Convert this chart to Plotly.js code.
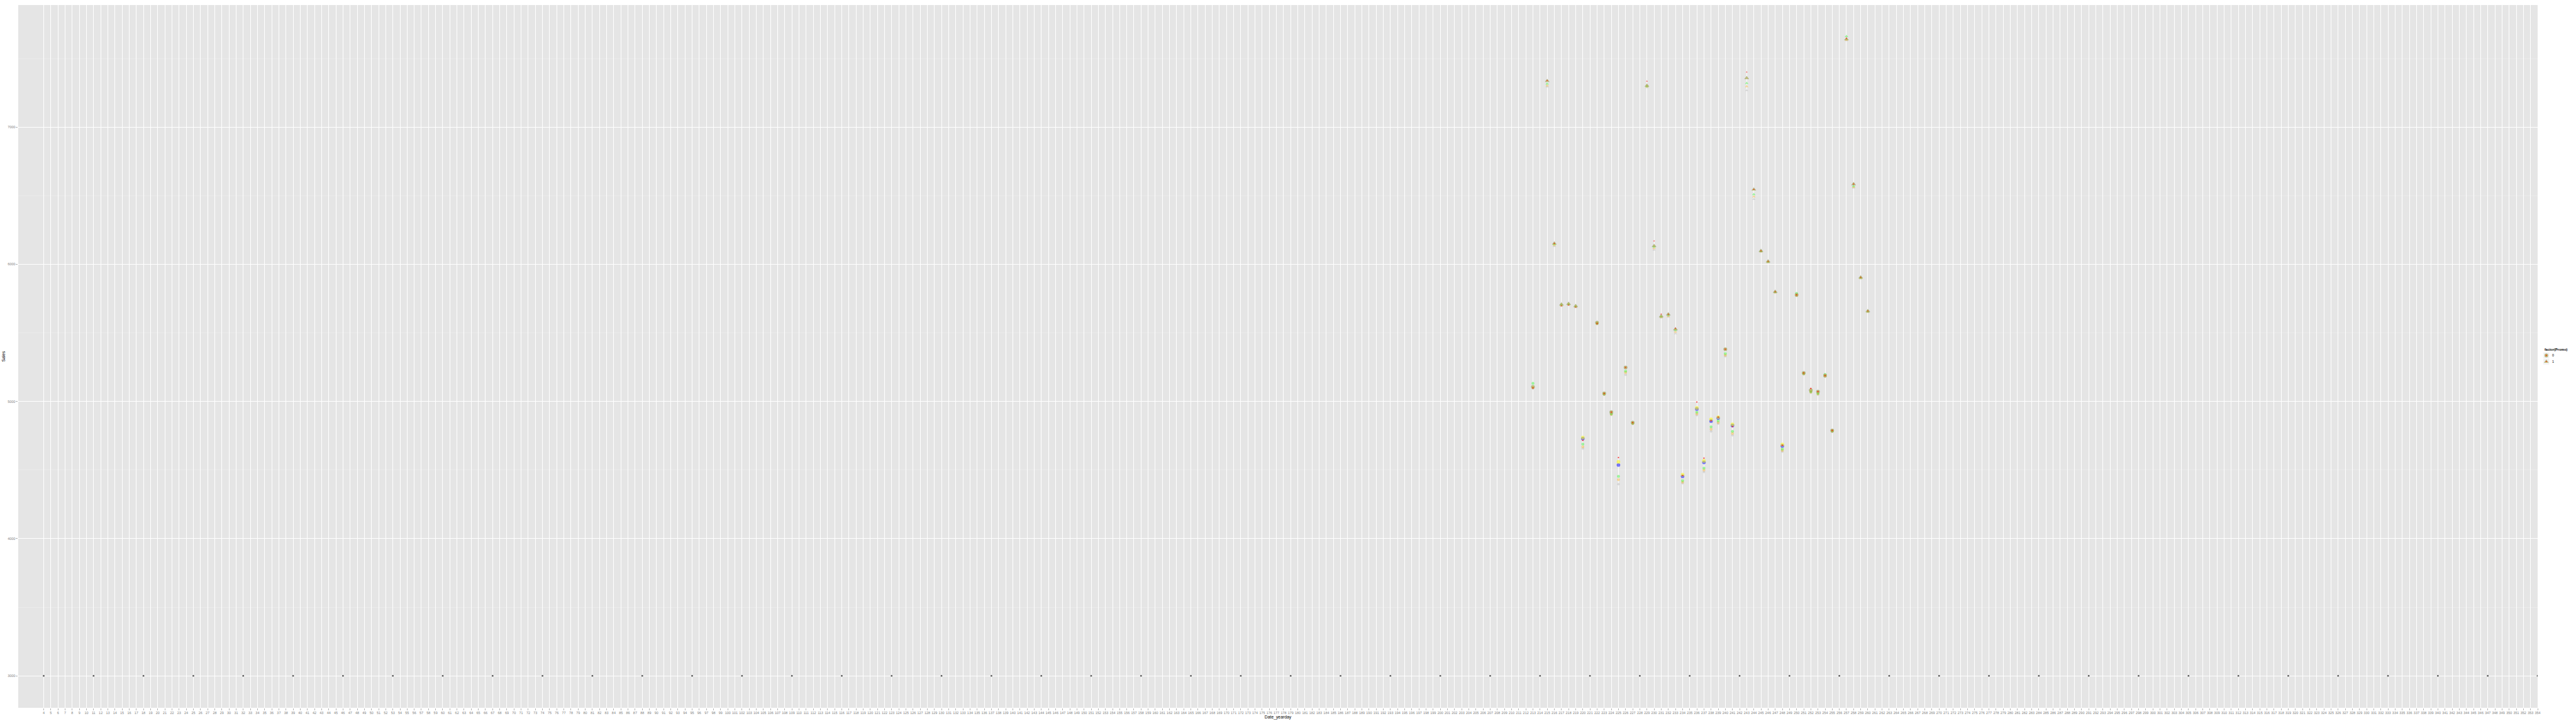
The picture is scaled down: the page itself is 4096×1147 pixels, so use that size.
<!DOCTYPE html>
<html>
<head>
<meta charset="utf-8">
<script src="https://cdn.plot.ly/plotly-3.0.1.min.js"></script>
<style>
html,body{margin:0;padding:0;background:#ffffff;}
#chart{width:4096px;height:1147px;}
</style>
</head>
<body>
<div id="chart"></div>
<script>
// ---------------- data ----------------
const days = [213,215,216,217,218,219,220,222,223,224,225,226,227,229,230,231,232,233,234,236,237,238,239,240,241,243,244,245,246,247,248,250,251,252,253,254,255,257,258,259,260];
const promo = [0,1,1,1,1,1,0,0,0,0,0,0,0,1,1,1,1,1,0,0,0,0,0,0,0,1,1,1,1,1,0,0,0,0,0,0,0,1,1,1,1];
const salesGray   = [5095,7294,6131,5696,5701,5685,4657,5564,5049,4902,4397,5194,4836,7289,6104,5610,5616,5495,4404,4900,4487,4782,4838,5330,4753,7267,6475,6089,6012,5791,4634,5770,5198,5064,5050,5182,4779,7632,6557,5895,5650];
const salesOrange = [5100,7302,6140,5700,5705,5689,4670,5567,5052,4906,4430,5211,4839,7294,6117,5614,5622,5507,4412,4910,4500,4798,4846,5338,4767,7297,6493,6092,6015,5794,4643,5773,5201,5068,5055,5185,4782,7636,6562,5898,5653];
const salesGreen  = [5132,7316,6146,5704,5709,5693,4689,5570,5055,4910,4454,5221,4842,7298,6128,5618,5630,5520,4423,4922,4514,4815,4859,5349,4782,7320,6510,6095,6018,5797,4653,5788,5204,5072,5059,5197,4785,7662,6570,5901,5656];
const salesBlue   = [5106,7337,6152,5708,5713,5697,4729,5574,5059,4922,4537,5248,4846,7303,6134,5622,5636,5527,4454,4945,4556,4857,4879,5381,4825,7358,6545,6099,6022,5801,4676,5777,5208,5082,5072,5189,4789,7641,6585,5905,5660];
const salesYellow = [5106,7337,6152,5708,5713,5697,4737,5574,5059,4922,4560,5248,4846,7303,6134,5622,5636,5527,4467,4953,4567,4870,4886,5381,4833,7358,6545,6099,6022,5801,4686,5777,5208,5082,5072,5189,4789,7641,6585,5905,5660];
const salesRed    = [5099,7339,6152,5697,5702,5687,4716,5569,5059,4922,4591,5248,4846,7335,6170,5637,5636,5534,4460,4996,4587,4859,4886,5381,4817,7401,6545,6099,6022,5801,4680,5777,5208,5095,5072,5189,4789,7648,6585,5905,5660];

const closedDays  = [4,11,18,25,32,39,46,53,60,67,74,81,88,95,102,109,116,123,130,137,144,151,158,165,172,179,186,193,200,207,214,221,228,235,242,249,256,263,270,277,284,291,298,305,312,319,326,333,340,347,354];
const closedSales = [3000,3000,3000,3000,3000,3000,3000,3000,3000,3000,3000,3000,3000,3000,3000,3000,3000,3000,3000,3000,3000,3000,3000,3000,3000,3000,3000,3000,3000,3000,3000,3000,3000,3000,3000,3000,3000,3000,3000,3000,3000,3000,3000,3000,3000,3000,3000,3000,3000,3000,3000];

const yTickVals = [3000,4000,5000,6000,7000];
const yTickText = ['3000','4000','5000','6000','7000'];
const yMinorVals = [3500,4500,5500,6500,7500];
const xTickVals = [];
for (let d = 4; d <= 354; d++) xTickVals.push(d);
const xTickText = xTickVals.map(String);

const legendTitle = 'factor(Promo)';
const legendLevels = [0, 1];
const legendLabels = ['0', '1'];

// ---------------- geometry (px in the 4096x1147 window) ----------------
const W = 4096, H = 1147;
const panelL = 29.18, panelR = 4035.0, panelT = 8.08, panelB = 1125.8;
const paperW = W - panelL;
const FONT = 'Liberation Sans, Arial, Helvetica, sans-serif';

const layers = [
  {name:'gray',   y: salesGray,   color:'rgba(175,175,175,0.55)', c:4.0, t:4.3},
  {name:'orange', y: salesOrange, color:'rgba(255,165,0,0.5)',   c:4.6, t:4.9},
  {name:'green',  y: salesGreen,  color:'rgba(0,255,0,0.5)',     c:4.6, t:4.9},
  {name:'blue',   y: salesBlue,   color:'rgba(0,0,255,0.72)',    c:5.7, t:6.4},
  {name:'yellow', y: salesYellow, color:'rgba(255,255,0,0.75)',  c:5.7, t:6.4},
  {name:'red',    y: salesRed,    color:'rgb(255,0,0)',          c:2.3, t:2.4}
];
const sym = p => p ? 'triangle-up' : 'circle';

const traces = [];
traces.push({
  type:'scatter', mode:'markers', x: closedDays, y: closedSales,
  marker:{color:'#5b5b5b', size:2.7, line:{width:0}},
  showlegend:false, hoverinfo:'skip', xaxis:'x', yaxis:'y'
});
layers.forEach(L => {
  traces.push({
    type:'scatter', mode:'markers', name:L.name, x: days, y: L.y,
    marker:{color:L.color, size: promo.map(p => p ? L.t : L.c), symbol: promo.map(sym), line:{width:0}},
    showlegend:false, hoverinfo:'skip', xaxis:'x', yaxis:'y'
  });
});

// legend (drawn in a pixel-unit helper axis to the right of the panel)
const keyX0 = 4043.9, keyW = 9.8, keyH = 9.83, keyY0 = 560.5;
const keyCx = keyX0 + keyW/2;
const keyCy = legendLevels.map((v,i) => keyY0 + keyH*(i+0.5));
['blue','yellow','red'].forEach(n => {
  const L = layers.find(l => l.name === n);
  traces.push({
    type:'scatter', mode:'markers', x: keyCy.map(() => keyCx), y: keyCy,
    marker:{color:L.color, size: legendLevels.map(p => p ? L.t : L.c), symbol: legendLevels.map(sym), line:{width:0}},
    showlegend:false, hoverinfo:'skip', xaxis:'x2', yaxis:'y2', cliponaxis:false
  });
});

const shapes = [
  {type:'rect', xref:'x domain', yref:'y domain', layer:'below', x0:0, x1:1, y0:0, y1:1,
   fillcolor:'#e5e5e5', line:{width:0}}
].concat(legendLevels.map((v,i) => ({
  type:'rect', xref:'x2', yref:'y2', layer:'below',
  x0:keyX0, x1:keyX0+keyW, y0:keyY0+keyH*i, y1:keyY0+keyH*(i+1),
  fillcolor:'#f2f2f2', line:{color:'#ffffff', width:0.6}
})));

const annotations = [
  {xref:'x2', yref:'y2', x:keyX0-0.3, y:keyY0-4.2, text:'<b>'+legendTitle+'</b>', showarrow:false,
   xanchor:'left', yanchor:'middle', font:{family:FONT, size:5.5, color:'#000000'}}
].concat(legendLabels.map((t,i) => ({
  xref:'x2', yref:'y2', x:keyX0+keyW+2.3, y:keyCy[i], text:t, showarrow:false,
  xanchor:'left', yanchor:'middle', font:{family:FONT, size:5.5, color:'#000000'}
})));

const layout = {
  width:W, height:H,
  margin:{l:panelL, r:0, t:panelT, b:H-panelB, pad:0},
  paper_bgcolor:'#ffffff', plot_bgcolor:'#ffffff',
  showlegend:false,
  font:{family:FONT, color:'#7f7f7f'},
  xaxis:{
    domain:[0, (panelR-panelL)/paperW], range:[0.425, 354], autorange:false,
    tickmode:'array', tickvals:xTickVals, ticktext:xTickText, tickangle:0,
    tickfont:{family:FONT, size:5.45, color:'#7f7f7f'},
    ticks:'outside', ticklen:2.6, tickwidth:0.6, tickcolor:'#7f7f7f',
    showgrid:true, gridcolor:'#ffffff', gridwidth:1.0,
    zeroline:false, showline:false,
    title:{text:'Date_yearday', font:{family:FONT, size:6.8, color:'#000000'}, standoff:1}
  },
  yaxis:{
    range:[2767, 7890], autorange:false,
    tickmode:'array', tickvals:yTickVals, ticktext:yTickText,
    tickfont:{family:FONT, size:5.45, color:'#7f7f7f'},
    ticks:'outside', ticklen:2.6, tickwidth:0.6, tickcolor:'#7f7f7f',
    showgrid:true, gridcolor:'#ffffff', gridwidth:1.0,
    minor:{tickmode:'array', tickvals:yMinorVals, showgrid:true, gridcolor:'#f2f2f2', gridwidth:0.5, ticks:''},
    zeroline:false, showline:false,
    title:{text:'Sales', font:{family:FONT, size:6.8, color:'#000000'}, standoff:2}
  },
  xaxis2:{domain:[(4040-panelL)/paperW, 1], range:[4040, 4096], autorange:false, visible:false, showgrid:false, anchor:'y2', fixedrange:true},
  yaxis2:{domain:[0,1], range:[panelB, panelT], autorange:false, visible:false, showgrid:false, anchor:'x2', fixedrange:true},
  shapes:shapes,
  annotations:annotations
};

Plotly.newPlot('chart', traces, layout, {displayModeBar:false, staticPlot:true});
</script>
</body>
</html>
